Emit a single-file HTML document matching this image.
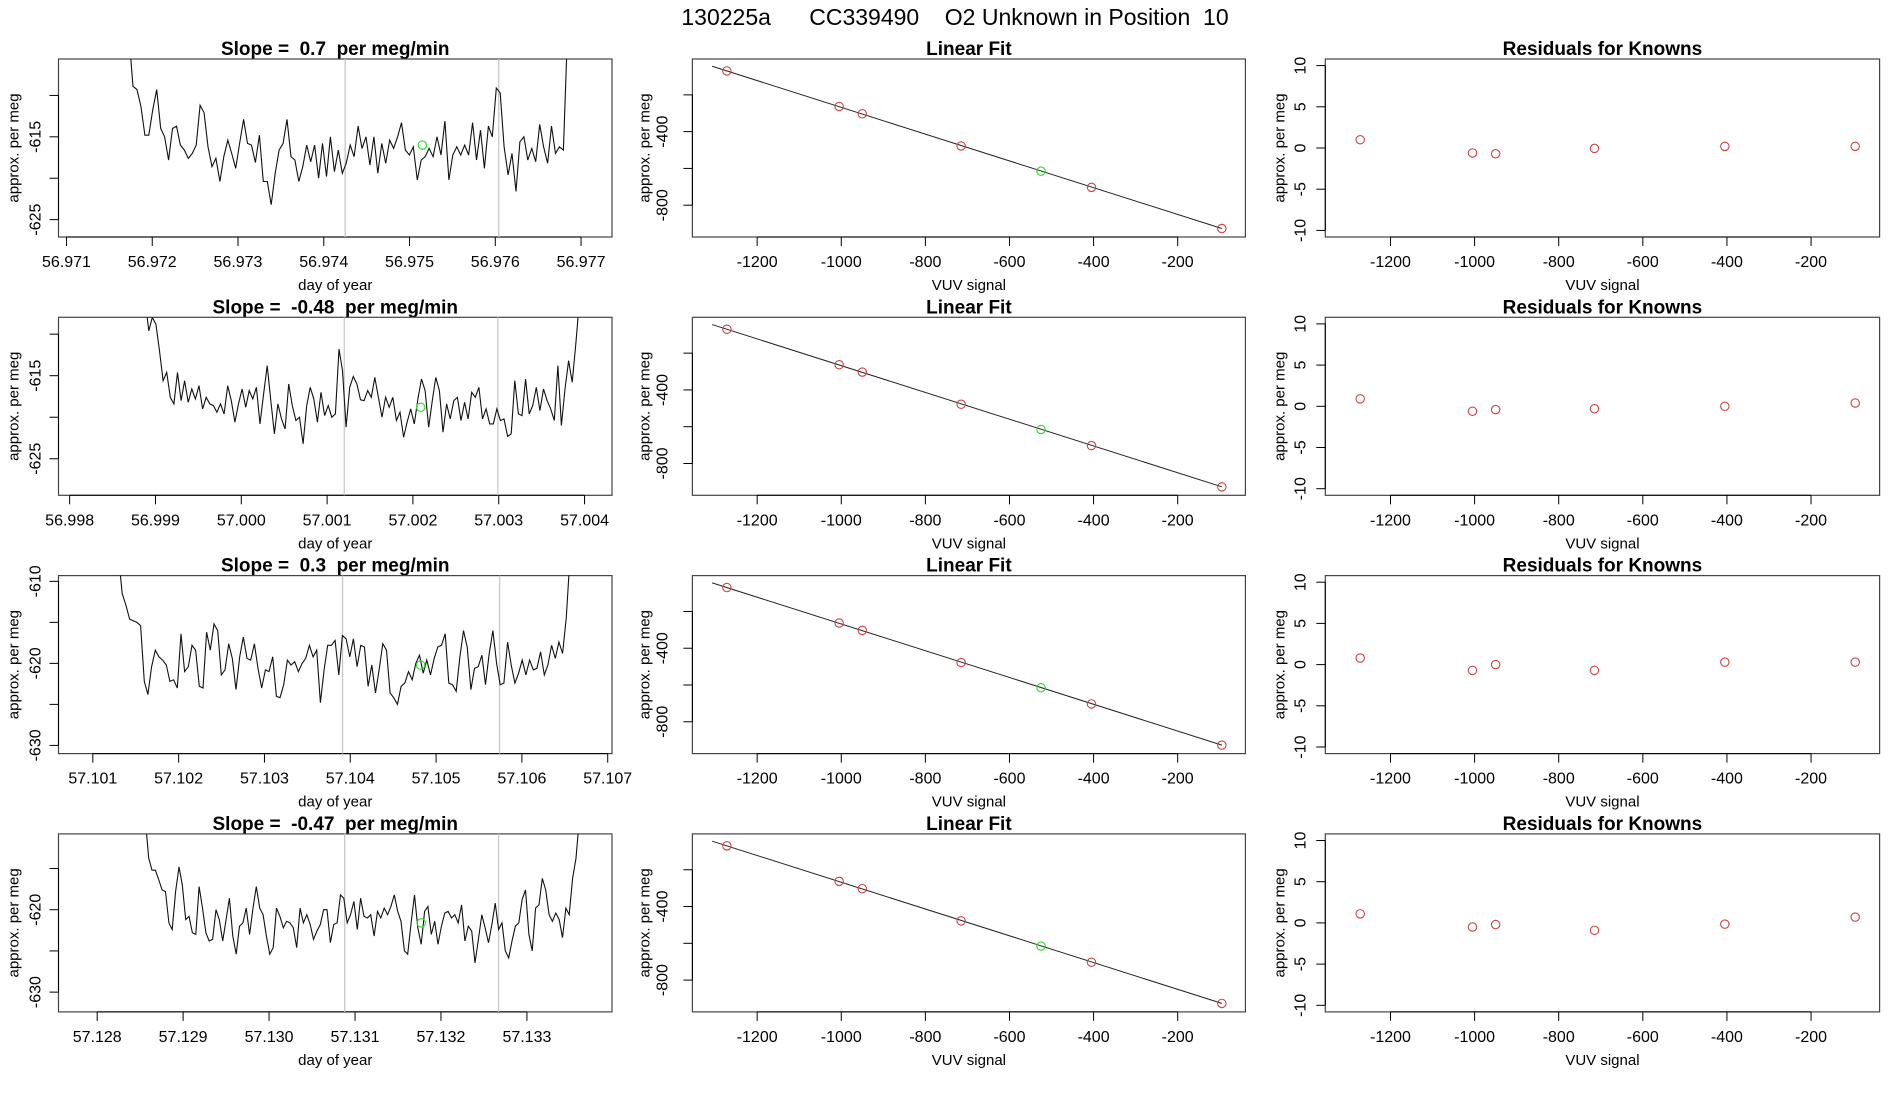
<!DOCTYPE html>
<html><head><meta charset="utf-8"><style>
html,body{margin:0;padding:0;background:#fff;}
svg{display:block;font-family:"Liberation Sans",sans-serif;}
text{white-space:pre;}
</style></head><body>
<svg id="fig" width="1900" height="1100" viewBox="0 0 1900 1100" xml:space="preserve">
<text x="955" y="25" text-anchor="middle" font-size="23">130225a      CC339490    O2 Unknown in Position  10</text>
</svg>
<script>
// ---------- data ----------
const slopeLabels = ["0.7", "-0.48", "0.3", "-0.47"];
const tsStart = [56.97173, 56.99888, 57.10130, 57.12856];
const tsEnd   = [56.97684, 57.00394, 57.10656, 57.13361];
const tsXmin = [56.970907, 56.99787, 57.1006, 57.12755];
const tsXmax = [56.977361, 57.00432, 57.10705, 57.13399];
const tsYmin = [-627.1, -629.4, -631.0, -632.4];
const tsYmax = [-605.6, -607.97, -609.3, -610.8];
const tsXTicks = [
  ["56.971","56.972","56.973","56.974","56.975","56.976","56.977"],
  ["56.998","56.999","57.000","57.001","57.002","57.003","57.004"],
  ["57.101","57.102","57.103","57.104","57.105","57.106","57.107"],
  ["57.128","57.129","57.130","57.131","57.132","57.133"]
];
const tsYTicks = [[-610,-615,-620,-625],[-610,-615,-620,-625],[-610,-615,-620,-625,-630],[-615,-620,-625,-630]];
const tsYLabels = [[-615,-625],[-615,-625],[-610,-620,-630],[-620,-630]];
const grayLines = [[56.97425,56.97604],[57.00120,57.00299],[57.10391,57.10574],[57.13088,57.13267]];
const unkTime = [56.97515, 57.00209, 57.10482, 57.13177];
const unkValue = [-616.0, -618.8, -620.2, -621.6];
const series1 = [-603,-608.9,-609.3,-611.3,-614.8,-614.8,-611.7,-609.3,-614.0,-615.0,-617.8,-614.0,-613.7,-616.0,-616.6,-617.6,-617.0,-616.0,-611.2,-612.1,-616.2,-618.6,-617.6,-620.4,-617.4,-615.4,-617.0,-618.8,-615.8,-612.9,-615.8,-616.0,-618.1,-614.8,-620.4,-620.4,-623.2,-619.4,-616.6,-615.8,-612.9,-617.4,-617.8,-620.4,-618.6,-616.0,-618.0,-616.0,-620.0,-615.8,-619.8,-615.0,-619.2,-616.6,-619.4,-618.2,-616.0,-617.4,-613.7,-616.4,-615.0,-618.4,-615.0,-619.4,-615.8,-618.2,-615.4,-616.4,-615.0,-613.3,-616.6,-617.2,-616.2,-620.2,-617.8,-617.4,-616.4,-617.4,-615.0,-617.2,-613.1,-620.2,-617.2,-616.2,-617.2,-616.0,-617.2,-613.3,-617.8,-614.2,-618.8,-613.7,-615.0,-609.1,-609.7,-616.2,-619.6,-617.0,-621.6,-615.6,-615.0,-617.8,-616.4,-618.0,-613.5,-616.2,-618.2,-613.7,-617.0,-616.2,-616.6,-603];
const series2 = [-606,-609.6,-608,-608.8,-612,-615.6,-614.6,-617.6,-618.4,-614.6,-618,-615.6,-618.2,-616.6,-617.8,-616.2,-619,-617.6,-618.4,-618.6,-619.4,-618.4,-619.6,-616.2,-618,-620.6,-618.4,-616.6,-618.8,-616.8,-617.8,-616.4,-620.8,-617.2,-613.8,-618,-622,-618.4,-620.2,-621.4,-616,-618.6,-620.4,-620,-623.2,-618.6,-616.4,-617.8,-620.6,-617,-619.8,-618.6,-620,-619.6,-611.8,-614.4,-621.2,-616.4,-615.1,-616,-617.9,-618,-616.8,-617.6,-615.2,-617.6,-620,-617.6,-618.8,-617.6,-620.4,-619.4,-622.4,-620.6,-619,-620.8,-617.8,-615.4,-616.8,-621.2,-618,-615.2,-616.8,-621.8,-618.4,-620.2,-618,-617.6,-620.4,-618.2,-620.2,-617,-617.6,-616.4,-620.2,-619,-620.8,-620.8,-619,-620.4,-620.2,-622.3,-622,-615.6,-619.6,-619.8,-615.4,-619.6,-618.6,-616.4,-619.2,-616.6,-618,-619,-620.4,-613.8,-621,-616.6,-613.2,-615.8,-611.2,-606];
const series3 = [-607,-611.5,-612.9,-614.6,-614.8,-615.0,-615.4,-622.2,-623.8,-620.4,-618.4,-619.2,-619.6,-620.2,-622.2,-622.0,-623.0,-616.4,-621.0,-620.4,-617.8,-618.4,-622.8,-623.0,-616.2,-618.4,-615.2,-616.0,-621.4,-620.8,-617.6,-619.4,-623.2,-619.2,-616.8,-619.4,-619.6,-617.6,-620.6,-623.0,-620.8,-621.0,-619.2,-624.0,-624.2,-622.6,-619.6,-620.2,-619.8,-621.0,-620.0,-619.4,-617.8,-619.2,-618.4,-624.8,-620.8,-617.8,-617.8,-617.2,-621.4,-616.6,-617.0,-619.2,-617.0,-620.4,-617.8,-618.0,-622.8,-620.2,-623.6,-620.8,-617.6,-618.4,-623.6,-624.2,-625.0,-622.8,-622.4,-621.0,-622.0,-620.0,-619.0,-621.2,-619.6,-621.4,-619.4,-618.0,-617.8,-616.4,-622.4,-622.6,-623.4,-619.2,-616.0,-618.0,-623.2,-620.6,-620.4,-619.0,-622.6,-618.8,-616.0,-620.0,-622.6,-622.4,-617.4,-620.2,-622.4,-621.2,-619.6,-621.4,-619.6,-620.8,-620.6,-618.6,-621.4,-620.2,-617.8,-619.4,-617.4,-618.8,-614.4,-607];
const series4 = [-609,-613.75,-615.2,-615.2,-616.4,-617.6,-617.8,-621.6,-622.4,-617.8,-614.8,-617.0,-621.2,-620.8,-622.8,-623.0,-617.2,-619.8,-622.8,-623.8,-623.6,-620,-621.2,-623.8,-621.2,-618.6,-623.2,-625.4,-622.0,-621.6,-619.8,-623.0,-619.8,-617.2,-619.8,-620.6,-623.2,-625.4,-624.6,-619.8,-620.8,-622.2,-621.4,-621.6,-622.2,-624.6,-619.8,-621.6,-620.6,-621.8,-623.6,-622.6,-621.8,-620,-620,-624.0,-621.8,-621.6,-618.2,-618.6,-621.6,-620.6,-619.0,-622.4,-618.6,-620.8,-621.0,-620.6,-623.2,-620.2,-621.0,-619.8,-620.6,-619.6,-618.2,-620.2,-621.4,-625.0,-625.4,-621.6,-618.2,-622.2,-624.2,-620.2,-619.6,-623.0,-621.4,-624.2,-622.0,-620.4,-620.2,-621.0,-620.6,-621.6,-619.4,-623.8,-622.0,-622.6,-626.45,-623.6,-620.6,-622.2,-624.0,-621.8,-619.2,-622.4,-621.6,-625.0,-625.85,-623.8,-622.0,-621.6,-618.8,-617.6,-623.0,-625.0,-619.8,-619.4,-616.2,-617.6,-620.6,-621.4,-620.4,-621.2,-623.4,-619.8,-620.6,-616.2,-613.75,-609];
const seriesAll = [series1, series2, series3, series4];

const vuvKnown = [-1272, -1005, -950, -715, -405, -95];
const permegKnown = [-70, -263, -303, -478, -703, -927];
const vuvUnknown = -525;
const permegUnknown = -615;
const fitIntercept = -996;
const fitSlope = -0.728;
const fitXFrom = -1307, fitXTo = -95;
const fitXTicks = [-1200,-1000,-800,-600,-400,-200];
const fitYTicks = [-200,-400,-600,-800];
const fitYLabels = [-400,-800];
const resXTicks = [-1200,-1000,-800,-600,-400,-200];
const resYTicks = [10,5,0,-5,-10];
const residRow1 = [1.0, -0.6, -0.7, -0.05, 0.2, 0.2];
const residRow2 = [0.9, -0.6, -0.4, -0.3, 0.0, 0.4];
const residRow3 = [0.8, -0.7, 0.0, -0.7, 0.3, 0.3];
const residRow4 = [1.1, -0.5, -0.2, -0.9, -0.15, 0.7];
const residAll = [residRow1, residRow2, residRow3, residRow4];

// ---------- drawing ----------
const NS = "http://www.w3.org/2000/svg";
const svg = document.getElementById("fig");
function mk(tag, attrs, parent){
  const e = document.createElementNS(NS, tag);
  for (const k in attrs) e.setAttribute(k, attrs[k]);
  (parent||svg).appendChild(e);
  return e;
}
const cols = [[58.5,612],[692.4,1245.4],[1325.3,1879.6]];
const rowTop0 = 59, rowStep = 258.3, panelH = 178;
const RED = "#cc4444", GREEN = "#22e022";

function makeScale(d0,d1,p0,p1){ return v => p0 + (v-d0)/(d1-d0)*(p1-p0); }

function drawFrame(g, L, R, T, B, title, xTicks, xLabels, sx, yTicks, yLabels, sy, xTitle, yLabX, yTitleX){
  const t = mk("text",{x:(L+R)/2,y:T-4,"text-anchor":"middle","font-size":19,"font-weight":"bold"},g);
  
  
  t.textContent = title;
  const box = mk("rect",{x:L,y:T,width:R-L,height:B-T,fill:"none",stroke:"#444","stroke-width":1.2},g);
  
  
  const xs = xTicks.map(sx);
  const xa = mk("g",{},g);
  
  
  mk("line",{x1:xs[0],x2:xs[xs.length-1],y1:B,y2:B,stroke:"#000"},xa);
  xTicks.forEach((v,i)=>{
    const x = sx(v);
    mk("line",{x1:x,x2:x,y1:B,y2:B+9,stroke:"#000"},xa);
    const lb = mk("text",{x:x,y:B+30,"text-anchor":"middle","font-size":16},xa);
    
    
    lb.textContent = xLabels[i];
  });
  const xt = mk("text",{x:(L+R)/2,y:B+53,"text-anchor":"middle","font-size":15},g);
  
  
  xt.textContent = xTitle;
  const ya = mk("g",{},g);
  
  
  const ys = yTicks.map(sy);
  mk("line",{x1:L,x2:L,y1:Math.min(...ys),y2:Math.max(...ys),stroke:"#000"},ya);
  yTicks.forEach(v=>{
    const y = sy(v);
    mk("line",{x1:L-9,x2:L,y1:y,y2:y,stroke:"#000"},ya);
  });
  yLabels.forEach(v=>{
    const y = sy(v);
    const lb = mk("text",{x:yLabX,y:y,"text-anchor":"middle","font-size":16,"dominant-baseline":"central",transform:`rotate(-90 ${yLabX} ${y})`},ya);
    
    
    lb.textContent = String(v);
  });
  const cy = (T+B)/2;
  const yt = mk("text",{x:yTitleX,y:cy,"text-anchor":"middle","font-size":15,"dominant-baseline":"central",transform:`rotate(-90 ${yTitleX} ${cy})`},g);
  
  
  yt.textContent = "approx. per meg";
}

for (let r=0;r<4;r++){
  const T = rowTop0 + r*rowStep, B = T + panelH;
  {
    const [L,R] = cols[0];
    const g = mk("g",{});
    
    
    const sx = makeScale(tsXmin[r], tsXmax[r], L, R);
    const sy = makeScale(tsYmin[r], tsYmax[r], B, T);
    const xt = tsXTicks[r].map(Number);
    drawFrame(g,L,R,T,B,"Slope =  "+slopeLabels[r]+"  per meg/min",xt,tsXTicks[r],sx,tsYTicks[r],tsYLabels[r],sy,"day of year",36,14);
    const clipId = "clip"+r;
    const cp = mk("clipPath",{id:clipId},g);
    mk("rect",{x:L,y:T,width:R-L,height:B-T},cp);
    grayLines[r].forEach(v=>{
      const gl = mk("line",{x1:sx(v),x2:sx(v),y1:T,y2:B,stroke:"#c8c8c8","stroke-width":1.3},g);
      
      
    });
    const s = seriesAll[r];
    const n = s.length;
    const pts = s.map((v,i)=>{
      const tt = tsStart[r] + (tsEnd[r]-tsStart[r])*i/(n-1);
      return sx(tt).toFixed(1)+","+sy(v).toFixed(1);
    }).join(" ");
    const pl = mk("polyline",{points:pts,fill:"none",stroke:"#111","stroke-width":1.1,"clip-path":`url(#${clipId})`},g);
    
    
    const uc = mk("circle",{cx:sx(unkTime[r]),cy:sy(unkValue[r]),r:4.2,fill:"none",stroke:GREEN,"stroke-width":1.1},g);
    
    
  }
  {
    const [L,R] = cols[1];
    const g = mk("g",{});
    
    
    const sx = makeScale(-1354, -39, L, R);
    const sy = makeScale(-973, -5, B, T);
    drawFrame(g,L,R,T,B,"Linear Fit",fitXTicks,fitXTicks.map(String),sx,fitYTicks,fitYLabels,sy,"VUV signal",663,645);
    const fl = mk("line",{x1:sx(fitXFrom),y1:sy(fitIntercept+fitSlope*fitXFrom),x2:sx(fitXTo),y2:sy(fitIntercept+fitSlope*fitXTo),stroke:"#222","stroke-width":1},g);
    
    
    vuvKnown.forEach((v,i)=>{
      const c = mk("circle",{cx:sx(v),cy:sy(permegKnown[i]),r:4.2,fill:"none",stroke:RED,"stroke-width":1.1},g);
      
      
    });
    const uc = mk("circle",{cx:sx(vuvUnknown),cy:sy(permegUnknown),r:4.2,fill:"none",stroke:GREEN,"stroke-width":1.1},g);
    
    
  }
  {
    const [L,R] = cols[2];
    const g = mk("g",{});
    
    
    const sx = makeScale(-1355, -37, L, R);
    const sy = makeScale(-10.8, 10.8, B, T);
    drawFrame(g,L,R,T,B,"Residuals for Knowns",resXTicks,resXTicks.map(String),sx,resYTicks,resYTicks,sy,"VUV signal",1301,1280);
    residAll[r].forEach((v,i)=>{
      const c = mk("circle",{cx:sx(vuvKnown[i]),cy:sy(v),r:4.2,fill:"none",stroke:RED,"stroke-width":1.1},g);
      
      
    });
  }
}
</script>
</body></html>
